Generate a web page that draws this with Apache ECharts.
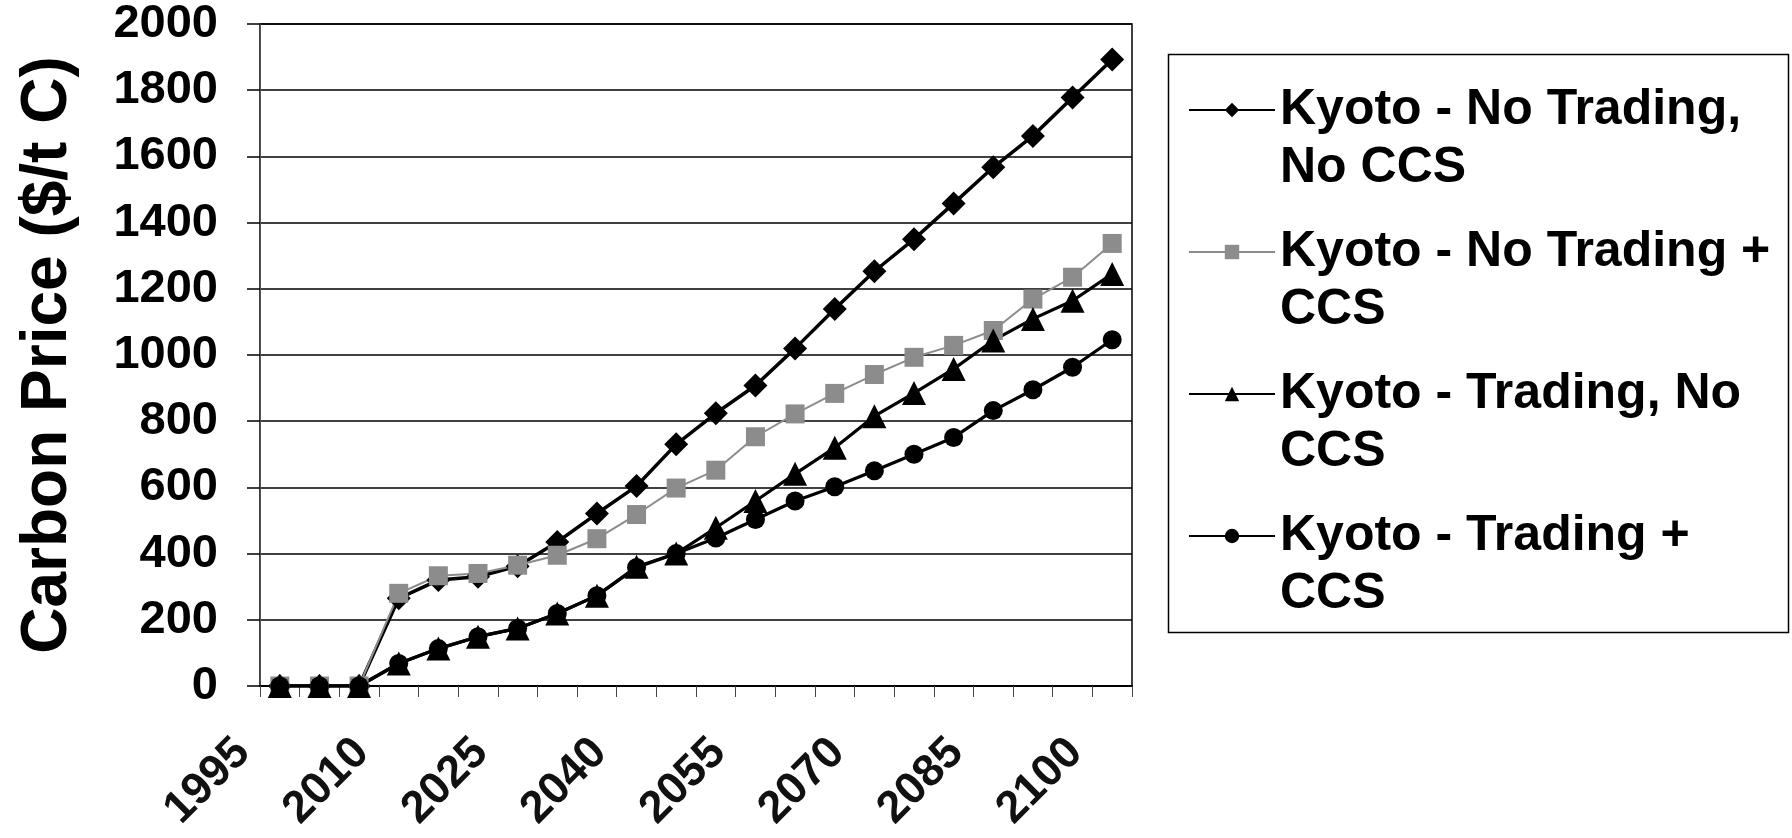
<!DOCTYPE html>
<html>
<head>
<meta charset="utf-8">
<style>
  html, body { margin: 0; padding: 0; background: #fff; }
  #chart { width: 1792px; height: 838px; }
</style>
<script src="https://cdn.jsdelivr.net/npm/echarts@6/dist/echarts.min.js"></script>
</head>
<body>
<div id="chart"></div>
<script>
// ---- data ----
const years = ['1995','2000','2005','2010','2015','2020','2025','2030','2035','2040','2045',
               '2050','2055','2060','2065','2070','2075','2080','2085','2090','2095','2100'];
const noTradingNoCCS = [0, 0, 0, 265, 320, 330, 362, 435, 521, 604, 730, 824, 908, 1020, 1139, 1253, 1350, 1458, 1567, 1662, 1778, 1893];
const noTradingCCS   = [0, 0, 0, 280, 333, 340, 365, 395, 445, 518, 598, 652, 753, 822, 884, 941, 993, 1029, 1074, 1169, 1235, 1337];
const tradingNoCCS   = [0, 0, 0, 68, 113, 149, 174, 219, 273, 360, 400, 478, 559, 641, 720, 815, 885, 958, 1044, 1109, 1164, 1245];
const tradingCCS     = [0, 0, 0, 68, 113, 149, 174, 219, 273, 358, 400, 447, 503, 559, 602, 650, 700, 751, 832, 895, 963, 1046];
const seriesNames = ['Kyoto - No Trading,\nNo CCS', 'Kyoto - No Trading +\nCCS', 'Kyoto - Trading, No\nCCS', 'Kyoto - Trading +\nCCS'];
const yTicks = { min: 0, max: 2000, interval: 200 };
const yTitle = 'Carbon Price ($/t C)';

const FONT = '"Liberation Sans", Arial, sans-serif';
const chart = echarts.init(document.getElementById('chart'), null, { renderer: 'canvas' });

const option = {
  backgroundColor: '#ffffff',
  animation: false,
  grid: { left: 260, right: 660, top: 24, bottom: 152, show: true, borderColor: '#000', borderWidth: 1.5 },
  xAxis: {
    type: 'category',
    data: years,
    boundaryGap: true,
    axisLine: { lineStyle: { color: '#000', width: 2 } },
    axisTick: { show: true, interval: 0, length: 11, lineStyle: { color: '#444', width: 1 } },
    axisLabel: {
      interval: 2, rotate: 45, margin: 23, padding: [0, 52, 0, 0],
      fontSize: 45, fontWeight: 'bold', fontFamily: FONT, color: '#111'
    },
    splitLine: { show: false }
  },
  yAxis: {
    type: 'value',
    min: yTicks.min, max: yTicks.max, interval: yTicks.interval,
    name: yTitle, nameLocation: 'middle', nameGap: 180,
    nameTextStyle: { fontSize: 64, fontWeight: 'bold', fontFamily: FONT, color: '#000' },
    axisLine: { show: true, lineStyle: { color: '#555', width: 1 } },
    axisTick: { show: true, inside: false, length: 13, lineStyle: { color: '#000', width: 1.5 } },
    axisLabel: { margin: 42, fontSize: 47, fontWeight: 'bold', fontFamily: FONT, color: '#000',
                 formatter: function (v) { return String(v); } },
    splitLine: { show: true, lineStyle: { color: '#000', width: 1.5 } }
  },
  legend: {
    orient: 'vertical',
    left: 1188, top: 23,
    padding: 0,
    itemWidth: 86, itemHeight: 18, itemGap: -32,
    formatter: function (name) { return '\n' + name; },
    textStyle: { fontSize: 50, fontWeight: 'bold', fontFamily: FONT, color: '#000', lineHeight: 58 },
    data: seriesNames
  },
  graphic: [{
    type: 'rect', left: 1166, top: 52, z: -1,
    shape: { width: 620, height: 578 },
    style: { fill: 'none', stroke: '#000', lineWidth: 1.5 }
  }],
  series: [
    { name: seriesNames[0], type: 'line', data: noTradingNoCCS, symbol: 'diamond', symbolSize: 24,
      itemStyle: { color: '#000' }, lineStyle: { color: '#000', width: 3.5 } },
    { name: seriesNames[1], type: 'line', data: noTradingCCS, symbol: 'rect', symbolSize: 19,
      itemStyle: { color: '#8c8c8c' }, lineStyle: { color: '#8c8c8c', width: 2 } },
    { name: seriesNames[2], type: 'line', data: tradingNoCCS, symbol: 'triangle', symbolSize: 24,
      itemStyle: { color: '#000' }, lineStyle: { color: '#000', width: 3.2 } },
    { name: seriesNames[3], type: 'line', data: tradingCCS, symbol: 'circle', symbolSize: 19,
      itemStyle: { color: '#000' }, lineStyle: { color: '#000', width: 3.2 } }
  ]
};
chart.setOption(option);
</script>
</body>
</html>
